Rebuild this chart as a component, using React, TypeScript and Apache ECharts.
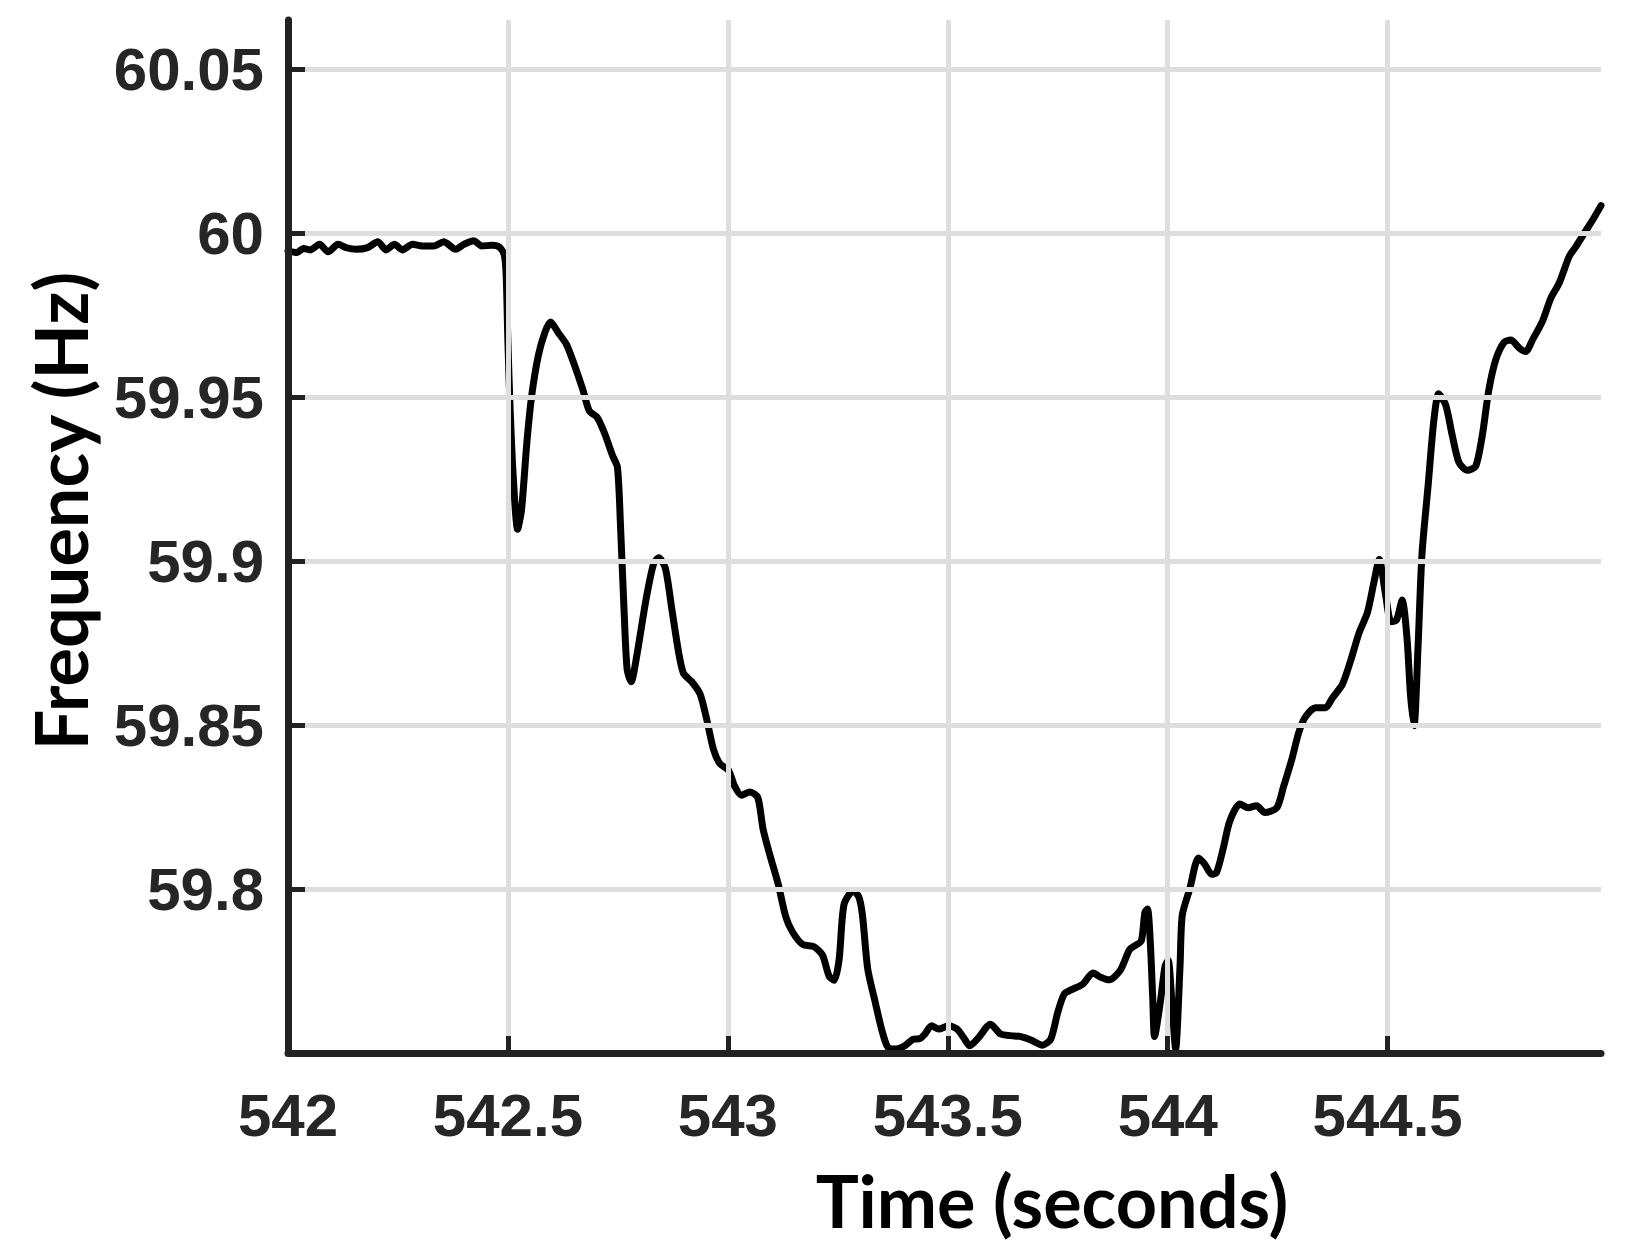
import React, { useEffect, useRef } from "react";
import * as echarts from "echarts";

const xTicks = [542, 542.5, 543, 543.5, 544, 544.5];
const yTicks = [59.8, 59.85, 59.9, 59.95, 60, 60.05];
const xGridValues = [542.5, 543, 543.5, 544, 544.5];

const time = [
  542.0, 542.02, 542.035, 542.05, 542.072, 542.091, 542.114, 542.132, 542.155, 542.181,
  542.204, 542.223, 542.242, 542.26, 542.283, 542.305, 542.332, 542.354, 542.381, 542.4,
  542.422, 542.441, 542.464, 542.482, 542.492, 542.496, 542.5, 542.505, 542.512, 542.522,
  542.531, 542.543, 542.554, 542.569, 542.584, 542.597, 542.614, 542.633, 542.652, 542.67,
  542.685, 542.703, 542.719, 542.738, 542.749, 542.756, 542.764, 542.771, 542.78, 542.794,
  542.813, 542.831, 542.843, 542.858, 542.873, 542.888, 542.899, 542.918, 542.937, 542.952,
  542.967, 542.982, 543.001, 543.016, 543.031, 543.05, 543.068, 543.08, 543.095, 543.114,
  543.132, 543.147, 543.17, 543.196, 543.215, 543.23, 543.242, 543.253, 543.264, 543.285,
  543.298, 543.306, 543.318, 543.335, 543.35, 543.364, 543.383, 543.402, 543.421, 543.437,
  543.448, 543.463, 543.479, 543.502, 543.521, 543.536, 543.55, 543.57, 543.597, 543.62,
  543.643, 543.666, 543.689, 543.715, 543.734, 543.75, 543.765, 543.784, 543.807, 543.83,
  543.849, 543.867, 543.892, 543.913, 543.925, 543.94, 543.948, 543.954, 543.96, 543.966,
  543.97, 543.983, 543.994, 544.001, 544.009, 544.018, 544.028, 544.033, 544.05, 544.07,
  544.084, 544.1, 544.111, 544.126, 544.141, 544.164, 544.183, 544.202, 544.221, 544.248,
  544.263, 544.282, 544.298, 544.313, 544.336, 544.359, 544.374, 544.397, 544.416, 544.435,
  544.454, 544.469, 544.481, 544.494, 544.508, 544.52, 544.533, 544.544, 544.552, 544.56,
  544.569, 544.578, 544.592, 544.605, 544.616, 544.632, 544.647, 544.662, 544.681, 544.7,
  544.715, 544.73, 544.746, 544.765, 544.78, 544.799, 544.814, 544.829, 544.852, 544.871,
  544.89, 544.913, 544.928, 544.947, 544.966, 544.985,
];

const frequency = [
  59.9946, 59.9941, 59.9953, 59.9949, 59.9966, 59.9943, 59.9966, 59.9956, 59.9951, 59.9956,
  59.9974, 59.9949, 59.9966, 59.9949, 59.9966, 59.9961, 59.9961, 59.9974, 59.9951, 59.9966,
  59.9977, 59.9961, 59.9963, 59.9956, 59.9931, 59.987, 59.9666, 59.9463, 59.926, 59.9097,
  59.9158, 59.9361, 59.9504, 59.9626, 59.9697, 59.9729, 59.9697, 59.9661, 59.9595, 59.9524,
  59.9458, 59.9438, 59.9392, 59.9321, 59.9286, 59.9106, 59.885, 59.867, 59.8632, 59.872,
  59.8876, 59.8991, 59.901, 59.8978, 59.885, 59.8722, 59.8658, 59.8632, 59.8594, 59.8517,
  59.8427, 59.8382, 59.8363, 59.8312, 59.8286, 59.8296, 59.8279, 59.8183, 59.8106, 59.8017,
  59.7914, 59.7869, 59.7831, 59.7824, 59.7799, 59.7735, 59.7722, 59.7786, 59.7953, 59.7995,
  59.7975, 59.792, 59.7756, 59.7655, 59.757, 59.7517, 59.7512, 59.7522, 59.7542, 59.7544,
  59.7558, 59.7583, 59.7573, 59.7583, 59.7573, 59.7547, 59.7522, 59.7547, 59.7588, 59.7558,
  59.7553, 59.755, 59.754, 59.7524, 59.7542, 59.7624, 59.768, 59.7695, 59.771, 59.7744,
  59.773, 59.7723, 59.7752, 59.7815, 59.7827, 59.7842, 59.7929, 59.7939, 59.7847, 59.7664,
  59.755, 59.7654, 59.7766, 59.7783, 59.7664, 59.7512, 59.7766, 59.792, 59.8, 59.8095,
  59.8076, 59.8045, 59.805, 59.8123, 59.8207, 59.8259, 59.8248, 59.8254, 59.8233, 59.8248,
  59.8311, 59.8395, 59.8478, 59.8525, 59.8553, 59.8553, 59.8582, 59.8624, 59.8697, 59.8781,
  59.8843, 59.8937, 59.9005, 59.8908, 59.8815, 59.882, 59.8881, 59.8765, 59.859, 59.8498,
  59.8737, 59.9021, 59.9231, 59.9429, 59.951, 59.9476, 59.9382, 59.9301, 59.9277, 59.9289,
  59.9382, 59.9522, 59.9615, 59.9668, 59.9674, 59.965, 59.9639, 59.9674, 59.9732, 59.9802,
  59.9848, 59.993, 59.9959, 60.0, 60.004, 60.0084,
];

const seriesData = time.map((t, i) => [t, frequency[i]]);

const AXIS_COLOR = "#222222";
const LABEL_COLOR = "#262626";
const GRID_COLOR = "#dedede";
const tickFont = '"Liberation Sans", Arial, sans-serif';
const titleFont = 'Lato, "Open Sans", sans-serif';

const fmt = (v: number) => String(+Number(v).toFixed(4));

export default function App() {
  const ref = useRef<HTMLDivElement>(null);

  useEffect(() => {
    if (!ref.current) return;
    const chart = echarts.init(ref.current, undefined, { renderer: "svg" });
    chart.setOption({
      animation: false,
      backgroundColor: "#ffffff",
      grid: {
        left: 288,
        top: 20,
        width: 1313,
        height: 1033,
        containLabel: false,
        outerBoundsMode: "none",
      },
      xAxis: {
        type: "value",
        z: 5,
        min: 542,
        max: 544.985,
        interval: 0.5,
        axisLine: { show: true, lineStyle: { color: AXIS_COLOR, width: 7 } },
        axisTick: {
          show: true,
          inside: true,
          length: 17,
          customValues: xTicks,
          lineStyle: { color: AXIS_COLOR, width: 5 },
        },
        axisLabel: {
          customValues: xTicks,
          margin: 32,
          color: LABEL_COLOR,
          fontFamily: tickFont,
          fontWeight: "bold",
          fontSize: 60,
          formatter: (v: number) => fmt(v),
        },
        splitLine: { show: false },
      },
      yAxis: {
        type: "value",
        z: 5,
        min: 59.75,
        max: 60.065,
        interval: 0.05,
        axisLine: { show: true, lineStyle: { color: AXIS_COLOR, width: 7 } },
        axisTick: {
          show: true,
          inside: true,
          length: 17,
          customValues: yTicks,
          lineStyle: { color: AXIS_COLOR, width: 5 },
        },
        axisLabel: {
          customValues: yTicks,
          margin: 24,
          color: LABEL_COLOR,
          fontFamily: tickFont,
          fontWeight: "bold",
          fontSize: 60,
          formatter: (v: number) => fmt(v),
        },
        splitLine: { show: false },
      },
      series: [
        {
          type: "line",
          name: "grid",
          z: 1,
          silent: true,
          data: [[542.5, 59.9]],
          showSymbol: false,
          symbol: "none",
          lineStyle: { opacity: 0 },
          markLine: {
            silent: true,
            animation: false,
            symbol: ["none", "none"],
            label: { show: false },
            emphasis: { disabled: true },
            lineStyle: { color: GRID_COLOR, width: 5, type: "solid" },
            data: [
              ...xGridValues.map((v) => ({ xAxis: v })),
              ...yTicks.map((v) => ({ yAxis: v })),
            ],
          },
        },
        {
          type: "line",
          name: "Frequency",
          z: 3,
          data: seriesData,
          showSymbol: false,
          symbol: "none",
          smooth: 0.25,
          clip: true,
          lineStyle: { color: "#000000", width: 7, cap: "round", join: "round" },
          emphasis: { disabled: true },
        },
      ],
      graphic: [
        {
          type: "text",
          x: 1052,
          y: 1200,
          style: {
            text: "Time (seconds)",
            font: `bold 72px ${titleFont}`,
            fill: "#000000",
            align: "center",
            verticalAlign: "middle",
          },
        },
        {
          type: "text",
          x: 60,
          y: 511,
          rotation: Math.PI / 2,
          style: {
            text: "Frequency (Hz)",
            font: `bold 72px ${titleFont}`,
            fill: "#000000",
            align: "center",
            verticalAlign: "middle",
          },
        },
      ],
    });
    return () => chart.dispose();
  }, []);

  return (
    <div
      ref={ref}
      style={{ position: "absolute", left: 0, top: 0, width: 1627, height: 1252 }}
    />
  );
}
